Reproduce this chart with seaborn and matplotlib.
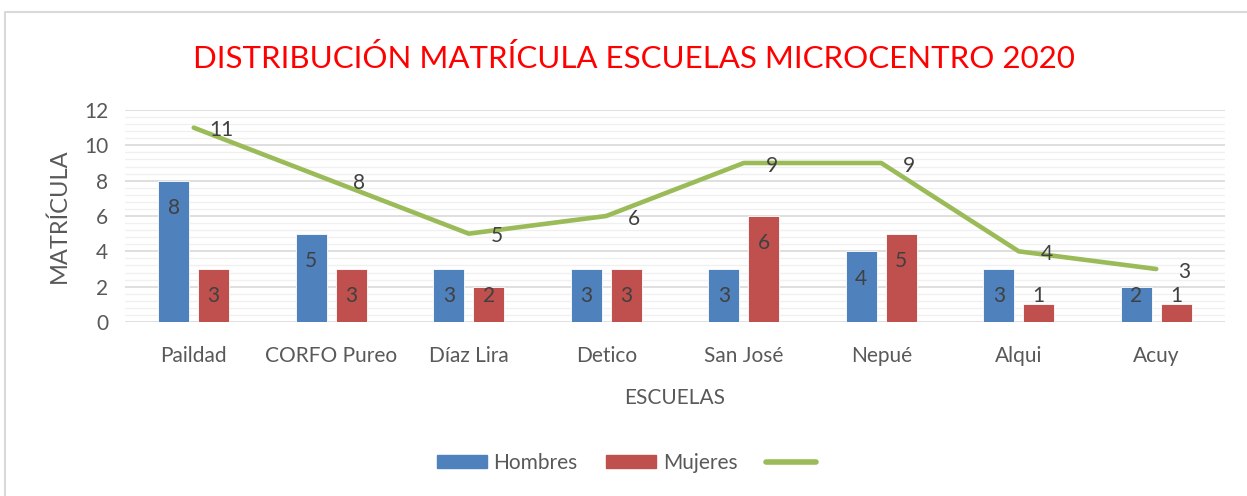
import numpy as np
import pandas as pd
import seaborn as sns
import matplotlib.pyplot as plt
from matplotlib.patches import Patch
from matplotlib.lines import Line2D

escuelas = ["Paildad", "CORFO Pureo", "Díaz Lira", "Detico", "San José", "Nepué", "Alqui", "Acuy"]
hombres = [8, 5, 3, 3, 3, 4, 3, 2]
mujeres = [3, 3, 2, 3, 6, 5, 1, 1]
total = [11, 8, 5, 6, 9, 9, 4, 3]

blue = "#4F81BD"
red = "#C0504D"
green = "#9BBB59"
gray_txt = "#595959"

sns.set_style("white")
plt.rcParams['font.family'] = ['Lato', 'DejaVu Sans']

df = pd.DataFrame({
    "escuela": escuelas * 2,
    "valor": hombres + mujeres,
    "genero": ["Hombres"] * len(escuelas) + ["Mujeres"] * len(escuelas),
})

fig = plt.figure(figsize=(12.47, 4.96), dpi=100)
ax = fig.add_axes([125 / 1247, 1 - 322 / 496, (1225 - 125) / 1247, (322 - 110) / 496])

sns.barplot(data=df, x="escuela", y="valor", hue="genero", palette=[blue, red],
            saturation=1, width=0.58, gap=0.22, ax=ax, legend=False,
            edgecolor="white", linewidth=0.6)
sns.lineplot(x=np.arange(len(escuelas)), y=total, color=green, lw=3.3, ax=ax,
             solid_capstyle="round", solid_joinstyle="round", zorder=5)

# data labels in bars
for cont in ax.containers:
    for rect in cont:
        v = rect.get_height()
        y = max(v - 1.55, 1.45)
        ax.text(rect.get_x() + rect.get_width() / 2, y, f"{v:g}", ha="center", va="center",
                fontsize=15, color="#404040", zorder=6)

# line labels
for i, v in enumerate(total):
    ax.annotate(f"{v}", (i, v), xytext=(20, -2), textcoords="offset points",
                ha="center", va="center", fontsize=15, color="#404040", zorder=6)

ax.set_xlim(-0.5, len(escuelas) - 0.5)
ax.set_ylim(0, 12)
ax.set_yticks(np.arange(0, 13, 2))
ax.set_yticks(np.arange(0, 12.01, 0.4), minor=True)
ax.grid(axis="y", which="major", color="#D9D9D9", lw=1.2, zorder=0)
ax.grid(axis="y", which="minor", color="#F0F0F0", lw=1.0, zorder=0)
ax.set_axisbelow(True)
for s in ax.spines.values():
    s.set_visible(False)
ax.tick_params(axis="both", which="both", length=0, labelsize=15, labelcolor=gray_txt)
ax.tick_params(axis="x", pad=17)
ax.tick_params(axis="y", pad=12)

ax.set_xlabel("ESCUELAS", fontsize=15, color=gray_txt, labelpad=16)
ax.set_ylabel("MATRÍCULA", fontsize=17, color=gray_txt, labelpad=10)

fig.text(0.508, 1 - 58 / 496, "DISTRIBUCIÓN MATRÍCULA ESCUELAS MICROCENTRO 2020",
         ha="center", va="center", fontsize=22.5, color="#FF0000")

handles = [Patch(color=blue), Patch(color=red),
           Line2D([], [], color=green, lw=4, solid_capstyle="round")]
fig.legend(handles, ["Hombres", "Mujeres", ""], loc="center", bbox_to_anchor=(0.505, 1 - 463 / 496),
           ncol=3, frameon=False, fontsize=15, labelcolor=gray_txt,
           handlelength=2.4, handleheight=0.6, handletextpad=0.3, columnspacing=1.4)

# outer chart border (only top/left visible)
fig.add_artist(Line2D([5 / 1247, 5 / 1247, 1], [0, 1 - 12 / 496, 1 - 12 / 496],
                      color="#D9D9D9", lw=1.5, transform=fig.transFigure))

fig.savefig("out.png", dpi=100)
